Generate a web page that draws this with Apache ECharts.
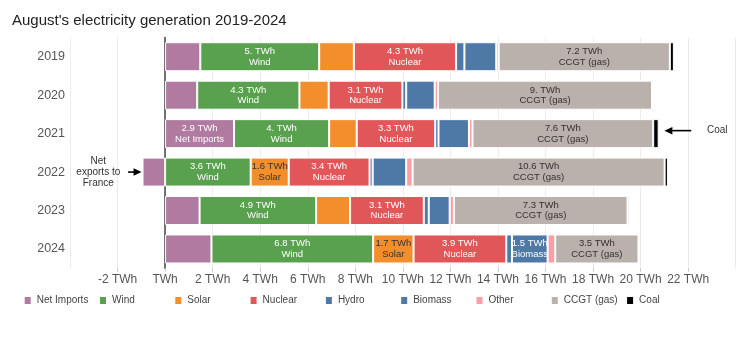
<!DOCTYPE html>
<html>
<head>
<meta charset="utf-8">
<title>August's electricity generation 2019-2024</title>
<script src="https://cdn.jsdelivr.net/npm/echarts@6/dist/echarts.min.js"></script>
<style>
  html, body { margin: 0; padding: 0; background: #fff; }
  #chart { width: 754px; height: 339px; }
</style>
</head>
<body>
<div id="chart"></div>
<script>
// Monthly (August) generation by source, TWh
const years = ['2019', '2020', '2021', '2022', '2023', '2024'];
const netImports = [1.48, 1.35, 2.9, -0.95, 1.45, 1.95];
const wind       = [5.0, 4.3, 4.0, 3.6, 4.9, 6.8];
const solar      = [1.46, 1.23, 1.16, 1.6, 1.43, 1.7];
const nuclear    = [4.3, 3.1, 3.3, 3.4, 3.1, 3.9];
const hydro      = [0.35, 0.16, 0.14, 0.13, 0.21, 0.24];
const biomass    = [1.34, 1.2, 1.28, 1.41, 0.88, 1.5];
const other      = [0.1, 0.14, 0.15, 0.27, 0.18, 0.32];
const ccgt       = [7.2, 9.0, 7.6, 10.6, 7.3, 3.5];
const coal       = [0.17, 0.06, 0.23, 0.14, 0.07, 0.03];

// Axis range and tick step (TWh)
const axisMin = -4, axisMax = 24, axisStep = 2;
const unit = 'TWh';

// Call-out notes: positions given in TWh along the row of a year
const coalNote   = { text: 'Coal', year: '2021', tail: 22.13, tip: 21.0, textAt: 22.79, dy: -3, align: 'left' };
const exportNote = { text: 'Net\nexports to\nFrance', year: '2022', tail: -1.556, tip: -0.99, textAt: -2.81, dy: 0, align: 'center' };

const FONT = "'Liberation Sans', Arial, Helvetica, sans-serif";

const sources = [
  { name: 'Net Imports', values: netImports, color: '#b07aa1', text: '#fff', minLabel: 2.5 },
  { name: 'Wind',        values: wind,       color: '#59a14f', text: '#fff', minLabel: 2 },
  { name: 'Solar',       values: solar,      color: '#f28e2b', text: '#333', minLabel: 1.55 },
  { name: 'Nuclear',     values: nuclear,    color: '#e15759', text: '#fff', minLabel: 2 },
  { name: 'Hydro',       values: hydro,      color: '#4e79a7', text: '#fff', minLabel: Infinity },
  { name: 'Biomass',     values: biomass,    color: '#4e79a7', text: '#fff', minLabel: 1.45 },
  { name: 'Other',       values: other,      color: '#ff9da7', text: '#333', minLabel: Infinity },
  { name: 'CCGT (gas)',  values: ccgt,       color: '#bab0ac', text: '#333', minLabel: 2 },
  { name: 'Coal',        values: coal,       color: '#000000', text: '#fff', minLabel: Infinity }
];

// 5 -> "5.", 4.3 -> "4.3"
function fmt(v) {
  const s = v.toFixed(1);
  return s.endsWith('.0') ? s.slice(0, -1) : s;
}

const chart = echarts.init(document.getElementById('chart'), null, { renderer: 'canvas' });

const series = sources.map(src => ({
  name: src.name,
  type: 'bar',
  stack: 'gen',
  yAxisIndex: 0,
  barWidth: 29,
  itemStyle: { color: src.color, borderColor: '#fff', borderWidth: 1 },
  label: {
    position: 'inside',
    color: src.text,
    fontFamily: FONT,
    fontSize: 9.5,
    lineHeight: 10.5,
    formatter: p => fmt(p.value) + ' ' + unit + '\n' + src.name
  },
  emphasis: { disabled: true },
  data: src.values.map(v => ({ value: v, label: { show: v >= src.minLabel } }))
}));

// One legend entry per source, on an even pitch
const legendLeft = 22.7, legendPitch = 75.3;
const legends = sources.map((s, i) => ({
  left: legendLeft + i * legendPitch,
  top: 295,
  padding: 0,
  itemWidth: 8,
  itemHeight: 9,
  icon: 'rect',
  selectedMode: false,
  textStyle: { fontFamily: FONT, fontSize: 10, color: '#444' },
  data: [s.name]
}));

chart.setOption({
  animation: false,
  backgroundColor: '#fff',
  title: {
    text: "August's electricity generation 2019-2024",
    left: 12,
    top: 13,
    padding: 0,
    textStyle: { fontFamily: FONT, fontSize: 15, fontWeight: 'normal', color: '#222' }
  },
  legend: legends,
  grid: { left: 70, right: 18.3, top: 37.5, bottom: 70.8, containLabel: false },
  xAxis: {
    type: 'value',
    min: axisMin,
    max: axisMax,
    interval: axisStep,
    axisLine: { show: false },
    axisTick: { show: true, length: 3.5, lineStyle: { color: '#c8c8c8' } },
    splitLine: { show: true, lineStyle: { color: '#ececec', width: 1 } },
    axisLabel: {
      showMinLabel: false,
      showMaxLabel: false,
      margin: 5,
      fontFamily: FONT,
      fontSize: 12,
      color: '#555',
      formatter: v => (v === 0 ? unit : v + ' ' + unit)
    }
  },
  yAxis: [
    {
      type: 'category',
      data: years,
      inverse: true,
      axisLine: { show: false, onZero: false },
      axisTick: { show: false },
      axisLabel: { margin: 5, fontFamily: FONT, fontSize: 12.5, color: '#555' }
    },
    {
      // zero baseline drawn under the bars
      type: 'category',
      data: years,
      inverse: true,
      position: 'right',
      axisLine: { show: true, onZero: true, lineStyle: { color: '#444', width: 1.5 } },
      axisTick: { show: false },
      axisLabel: { show: false },
      splitLine: { show: false }
    }
  ],
  series: series
});

// Arrow call-outs placed through the chart's own coordinate system
function note(n) {
  const tip = chart.convertToPixel({ gridIndex: 0 }, [n.tip, n.year]);
  const tail = chart.convertToPixel({ gridIndex: 0 }, [n.tail, n.year]);
  const txt = chart.convertToPixel({ gridIndex: 0 }, [n.textAt, n.year]);
  const y = tip[1] + n.dy;
  const dir = tip[0] > tail[0] ? 1 : -1;
  const headLen = 8, headH = 7.5;
  const base = tip[0] - dir * headLen;
  return [
    {
      type: 'line',
      shape: { x1: tail[0], y1: y, x2: base + dir * 1, y2: y },
      style: { stroke: '#000', lineWidth: 1.6 },
      silent: true
    },
    {
      type: 'polygon',
      shape: { points: [[tip[0], y], [base, y - headH / 2], [base, y + headH / 2]] },
      style: { fill: '#000' },
      silent: true
    },
    {
      type: 'text',
      x: txt[0],
      y: y,
      style: {
        text: n.text,
        fontFamily: FONT,
        fontSize: 10,
        lineHeight: 11,
        fill: '#333',
        align: n.align,
        verticalAlign: 'middle'
      },
      silent: true
    }
  ];
}

chart.setOption({ graphic: note(coalNote).concat(note(exportNote)) });
</script>
</body>
</html>
